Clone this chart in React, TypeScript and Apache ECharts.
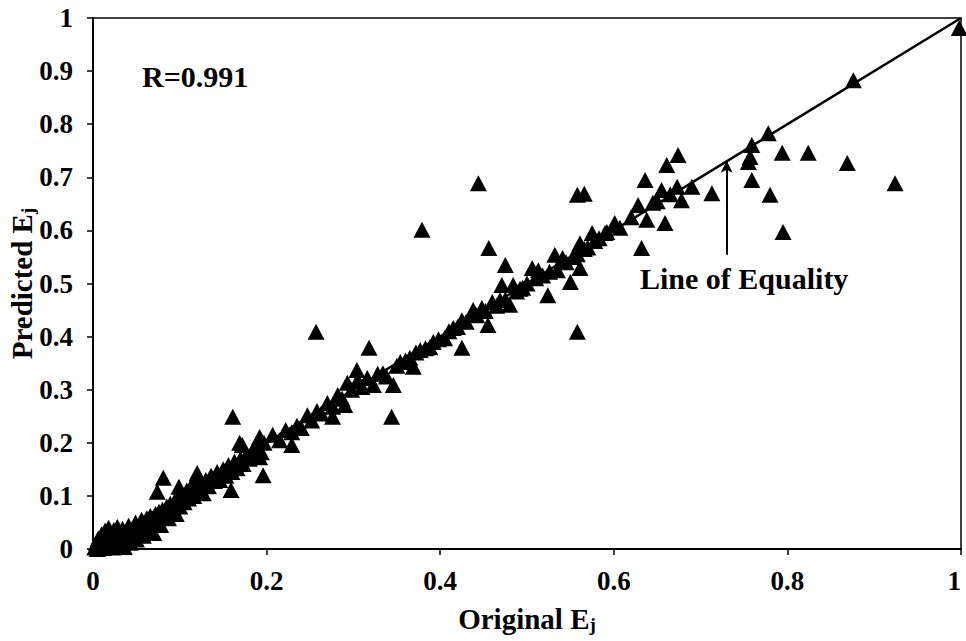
import React, { useEffect, useRef } from "react";
import * as echarts from "echarts";

const originalE: number[] = [
  0.002, 0.004, 0.005, 0.006, 0.008, 0.01, 0.011, 0.012, 0.014, 0.015, 0.017, 0.018, 0.02, 0.021, 0.023, 0.024, 0.026, 0.028, 0.029, 0.031,
  0.033, 0.034, 0.036, 0.038, 0.04, 0.041, 0.043, 0.045, 0.047, 0.049, 0.05, 0.052, 0.054, 0.056, 0.058, 0.06, 0.062, 0.064, 0.066, 0.068,
  0.07, 0.072, 0.074, 0.076, 0.078, 0.08, 0.082, 0.085, 0.087, 0.089, 0.091, 0.094, 0.096, 0.098, 0.1,
  0.102, 0.105, 0.108, 0.11, 0.113, 0.116, 0.118, 0.121, 0.124, 0.127, 0.13, 0.133, 0.136, 0.14, 0.143, 0.146, 0.15, 0.153, 0.156, 0.16,
  0.163, 0.166, 0.17, 0.173, 0.177, 0.18, 0.184, 0.187, 0.19, 0.194, 0.197,
  0.081, 0.074, 0.099, 0.159, 0.12, 0.161, 0.196, 0.192, 0.172,
  0.169, 0.192, 0.207, 0.215, 0.222, 0.229, 0.229, 0.235, 0.24, 0.247, 0.252, 0.258, 0.263, 0.27, 0.276, 0.276, 0.282, 0.287, 0.29, 0.293,
  0.298, 0.304, 0.305, 0.31, 0.316, 0.323, 0.328, 0.334, 0.338, 0.346, 0.35, 0.354, 0.36, 0.365, 0.369, 0.372, 0.377, 0.383, 0.388, 0.392,
  0.398, 0.405, 0.41, 0.415, 0.42, 0.425, 0.43, 0.438, 0.442, 0.448, 0.452,
  0.257, 0.318, 0.344, 0.379, 0.444, 0.425, 0.455, 0.456, 0.475, 0.558, 0.558, 0.566,
  0.46, 0.465, 0.469, 0.471, 0.475, 0.48, 0.484, 0.488, 0.492, 0.495, 0.5, 0.506, 0.51, 0.513, 0.518, 0.524, 0.526, 0.532, 0.535, 0.541,
  0.545, 0.55, 0.553, 0.558, 0.561, 0.561, 0.566, 0.57, 0.575, 0.578, 0.583, 0.59, 0.592, 0.601, 0.607, 0.601,
  0.632, 0.628, 0.638, 0.645, 0.659, 0.636, 0.655, 0.661, 0.674, 0.673, 0.678, 0.69, 0.713, 0.759, 0.755, 0.757, 0.759, 0.78, 0.795, 0.794,
  0.824, 0.869, 0.924, 0.778, 0.876, 0.998, 0.65, 0.665, 0.62,
];

const predictedE: number[] = [
  0.003, 0.012, 0.0, 0.02, 0.005, 0.028, 0.01, 0.002, 0.035, 0.018, 0.006, 0.04, 0.025, 0.012, 0.003, 0.036, 0.019, 0.042, 0.008, 0.028,
  0.015, 0.038, 0.004, 0.031, 0.022, 0.044, 0.012, 0.035, 0.027, 0.05, 0.018, 0.04, 0.032, 0.055, 0.025, 0.048, 0.058, 0.038, 0.062, 0.05,
  0.03, 0.066, 0.055, 0.07, 0.045, 0.074, 0.062, 0.08, 0.058, 0.085, 0.072, 0.09, 0.066, 0.095, 0.08,
  0.1, 0.088, 0.11, 0.095, 0.118, 0.1, 0.125, 0.11, 0.12, 0.105, 0.13, 0.118, 0.138, 0.128, 0.145, 0.13, 0.15, 0.138, 0.158, 0.145,
  0.165, 0.152, 0.17, 0.16, 0.178, 0.17, 0.186, 0.175, 0.192, 0.182, 0.2,
  0.134, 0.108, 0.117, 0.111, 0.143, 0.249, 0.139, 0.173, 0.196,
  0.2, 0.211, 0.215, 0.205, 0.224, 0.22, 0.196, 0.232, 0.228, 0.252, 0.242, 0.26, 0.255, 0.275, 0.249, 0.268, 0.29, 0.283, 0.271, 0.313,
  0.3, 0.337, 0.318, 0.305, 0.322, 0.309, 0.33, 0.331, 0.325, 0.309, 0.345, 0.352, 0.355, 0.36, 0.343, 0.37, 0.375, 0.378, 0.38, 0.39,
  0.395, 0.397, 0.41, 0.416, 0.418, 0.431, 0.428, 0.45, 0.44, 0.454, 0.448,
  0.409, 0.379, 0.249, 0.601, 0.689, 0.379, 0.422, 0.567, 0.535, 0.409, 0.667, 0.669,
  0.465, 0.458, 0.469, 0.497, 0.47, 0.46, 0.497, 0.485, 0.49, 0.492, 0.5, 0.529, 0.51, 0.525, 0.515, 0.478, 0.522, 0.554, 0.525, 0.548,
  0.54, 0.503, 0.55, 0.555, 0.529, 0.576, 0.565, 0.568, 0.595, 0.58, 0.585, 0.595, 0.597, 0.61, 0.605, 0.614,
  0.567, 0.648, 0.62, 0.652, 0.614, 0.695, 0.676, 0.723, 0.742, 0.682, 0.657, 0.682, 0.67, 0.761, 0.729, 0.738, 0.695, 0.667, 0.597, 0.746,
  0.746, 0.727, 0.689, 0.783, 0.883, 0.981, 0.655, 0.668, 0.625,
];

const equalityLine: number[][] = [[0, 0], [1, 1]];
const arrowFrom: number[] = [0.73, 0.554];
const arrowTo: number[] = [0.73, 0.731];
const xTicks = { min: 0, max: 1, interval: 0.2 };
const yTicks = { min: 0, max: 1, interval: 0.1 };

const FONT = "'Liberation Serif', 'Times New Roman', serif";

export default function App() {
  const ref = useRef<HTMLDivElement>(null);
  useEffect(() => {
    if (!ref.current) return;
    const chart = echarts.init(ref.current, null, { renderer: "svg" });
    const points = originalE.map((x, i) => [x, predictedE[i]]);
    const titleStyle = {
      color: "#000", fontFamily: FONT, fontWeight: "bold", fontSize: 29,
      rich: {
        sub: { color: "#000", fontFamily: FONT, fontWeight: "bold", fontSize: 19, verticalAlign: "bottom", padding: [11, 0, 0, 0] },
      },
    };
    chart.setOption({
      animation: false,
      backgroundColor: "#fff",
      grid: {
        left: 93, right: 5, top: 18, bottom: 92,
        show: true, borderColor: "#000", borderWidth: 1.5,
        containLabel: false, outerBoundsMode: "none",
      },
      xAxis: {
        type: "value",
        ...xTicks,
        name: "Original E{sub|j}",
        nameLocation: "middle",
        nameGap: 55,
        nameMoveOverlap: false,
        nameTextStyle: titleStyle,
        axisLine: { lineStyle: { color: "#000", width: 2 } },
        axisTick: { show: true, inside: false, length: 6, lineStyle: { color: "#000", width: 1.5 } },
        axisLabel: { color: "#000", fontFamily: FONT, fontWeight: "bold", fontSize: 27, margin: 18, alignMaxLabel: "right" },
        splitLine: { show: false },
      },
      yAxis: {
        type: "value",
        ...yTicks,
        name: "Predicted E{sub|j}",
        nameLocation: "middle",
        nameGap: 56,
        nameMoveOverlap: false,
        nameRotate: 90,
        nameTextStyle: titleStyle,
        axisLine: { lineStyle: { color: "#000", width: 2 } },
        axisTick: { show: true, inside: false, length: 6, lineStyle: { color: "#000", width: 1.5 } },
        axisLabel: { color: "#000", fontFamily: FONT, fontWeight: "bold", fontSize: 27, margin: 20 },
        splitLine: { show: false },
      },
      series: [
        {
          type: "scatter",
          data: points,
          symbol: "triangle",
          symbolSize: [17, 16],
          itemStyle: { color: "#000", opacity: 1 },
          z: 2,
        },
        {
          type: "line",
          data: equalityLine,
          symbol: "none",
          lineStyle: { color: "#000", width: 2.5 },
          z: 3,
          markLine: {
            silent: true,
            symbol: ["none", "arrow"],
            symbolSize: [9, 12],
            label: { show: false },
            lineStyle: { color: "#000", width: 2, type: "solid" },
            data: [[{ coord: arrowFrom }, { coord: arrowTo }]],
          },
        },
      ],
      graphic: [
        {
          type: "text",
          left: 142,
          top: 61,
          style: { text: "R=0.991", fill: "#000", font: `bold 30px ${FONT}` },
        },
        {
          type: "text",
          left: 640,
          top: 263,
          style: { text: "Line of Equality", fill: "#000", font: `bold 30px ${FONT}` },
        },
      ],
    });
    return () => chart.dispose();
  }, []);
  return <div ref={ref} style={{ width: 966, height: 641, position: "absolute", left: 0, top: 0 }} />;
}
